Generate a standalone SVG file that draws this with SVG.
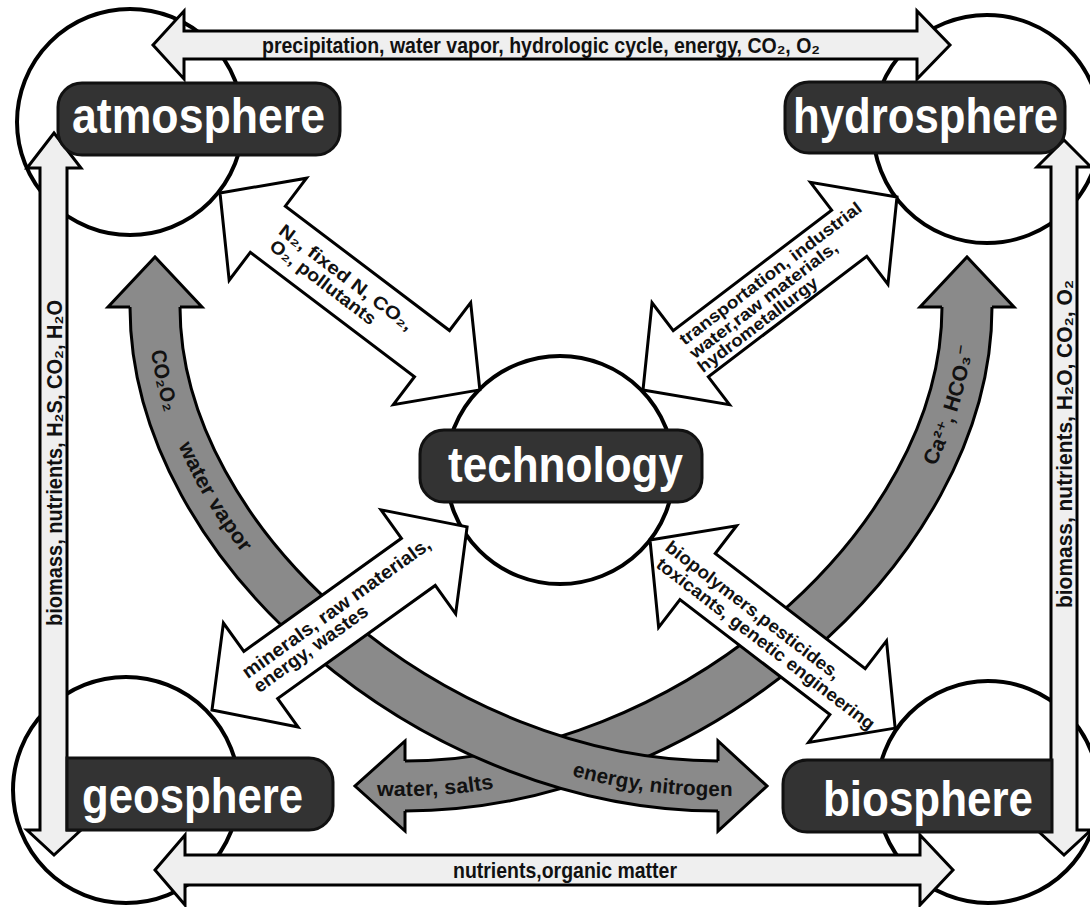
<svg xmlns="http://www.w3.org/2000/svg" xmlns:xlink="http://www.w3.org/1999/xlink" width="1090" height="907" viewBox="0 0 1090 907">
<style>
.circ{fill:#fff;stroke:#000;stroke-width:4}
.box{fill:#333;stroke:#111;stroke-width:3}
.lbl{font-family:'Liberation Sans Narrow','Liberation Sans',Arial,sans-serif;font-weight:700;font-size:50px;fill:#fff}
.light{fill:#efefef;stroke:#000;stroke-width:3}
.white{fill:#fff;stroke:#000;stroke-width:3}
.grayhead{fill:#8a8a8a;stroke:#000;stroke-width:3}
.bandout{fill:none;stroke:#000;stroke-width:53}
.bandin{fill:none;stroke:#8a8a8a;stroke-width:47}
.t{font-family:'Liberation Sans Narrow','Liberation Sans','DejaVu Sans',Arial,sans-serif;font-weight:700;fill:#111}
</style>
<defs>
<path id="tpA" d="M155,307 C155,547 436,786 718,786 L800,786"/>
<path id="tpB" d="M330,786 L405,786 C686,786 967,547 967,307 L967,240"/>
</defs>
<rect width="1090" height="907" fill="#fff"/>

<g id="spheres">
<circle class="circ" cx="130" cy="122" r="113"/>
<circle class="circ" cx="987" cy="129" r="114"/>
<circle class="circ" cx="560" cy="470" r="114"/>
<circle class="circ" cx="126" cy="790" r="113"/>
<circle class="circ" cx="988" cy="792" r="111"/>
</g>

<g id="connectors">
<g id="band-b">
<path class="bandout" d="M967,307 C967,547 686,786 405,786"/>
<path class="bandin" d="M967,307 C967,547 686,786 405,786"/>
<path class="grayhead" d="M942,307 L920,307 L967,257 L1014,307 L992,307"/>
<path class="grayhead" d="M405,761 L405,741 L355,786 L405,831 L405,811"/>
</g>
<g id="band-a">
<path class="bandout" d="M155,307 C155,547 436,786 718,786"/>
<path class="bandin" d="M155,307 C155,547 436,786 718,786"/>
<path class="grayhead" d="M130,307 L108,307 L155,257 L202,307 L180,307"/>
<path class="grayhead" d="M718,761 L718,741 L767,786 L718,831 L718,811"/>
</g>
<g id="band-text" class="t" font-size="21">
<text><textPath xlink:href="#tpA" startOffset="43" textLength="62" lengthAdjust="spacingAndGlyphs"><tspan dy="7">CO₂O₂</tspan></textPath></text>
<text><textPath xlink:href="#tpA" startOffset="140" textLength="124" lengthAdjust="spacingAndGlyphs"><tspan dy="6">water vapor</tspan></textPath></text>
<text><textPath xlink:href="#tpA" startOffset="663" textLength="160" lengthAdjust="spacingAndGlyphs"><tspan dy="10">energy, nitrogen</tspan></textPath></text>
<text><textPath xlink:href="#tpB" startOffset="47" textLength="116" lengthAdjust="spacingAndGlyphs"><tspan dy="10">water, salts</tspan></textPath></text>
<text><textPath xlink:href="#tpB" startOffset="720" textLength="125" lengthAdjust="spacingAndGlyphs"><tspan dy="7">Ca²⁺, HCO₃⁻</tspan></textPath></text>
</g>

<g id="atmo-tech" transform="translate(220,193) rotate(37.15)">
<path class="white" d="M0,0 L60,-64 L60,-29 L266,-29 L266,-64 L326,0 L266,64 L266,29 L60,29 L60,64 Z"/>
<text class="t" font-size="18" x="70" y="-3" textLength="163" lengthAdjust="spacingAndGlyphs">N₂, fixed N, CO₂,</text>
<text class="t" font-size="18" x="72" y="15" textLength="128" lengthAdjust="spacingAndGlyphs">O₂, pollutants</text>
</g>
<g id="hydro-tech" transform="translate(643,390) rotate(-37.23)">
<path class="white" d="M0,0 L60,-64 L60,-29 L259,-29 L259,-64 L319,0 L259,64 L259,29 L60,29 L60,64 Z"/>
<text class="t" font-size="17" x="60" y="-10" textLength="224" lengthAdjust="spacingAndGlyphs">transportation, industrial</text>
<text class="t" font-size="17" x="60" y="7" textLength="181" lengthAdjust="spacingAndGlyphs">water,raw materials,</text>
<text class="t" font-size="17" x="58" y="23" textLength="146" lengthAdjust="spacingAndGlyphs">hydrometallurgy</text>
</g>
<g id="geo-tech" transform="translate(212,710) rotate(-35.67)">
<path class="white" d="M0,0 L60,-64 L60,-29 L254,-29 L254,-64 L314,0 L254,64 L254,29 L60,29 L60,64 Z"/>
<text class="t" font-size="19" x="47" y="-4" textLength="227" lengthAdjust="spacingAndGlyphs">minerals, raw materials,</text>
<text class="t" font-size="19" x="48" y="14" textLength="136" lengthAdjust="spacingAndGlyphs">energy, wastes</text>
</g>
<g id="bio-tech" transform="translate(650,540) rotate(37.5)">
<path class="white" d="M0,0 L60,-64 L60,-29 L249,-29 L249,-64 L309,0 L249,64 L249,29 L60,29 L60,64 Z"/>
<text class="t" font-size="18" x="17" y="-1" textLength="215" lengthAdjust="spacingAndGlyphs">biopolymers,pesticides,</text>
<text class="t" font-size="18" x="20" y="18" textLength="270" lengthAdjust="spacingAndGlyphs">toxicants, genetic engineering</text>
</g>

<g id="atmo-hydro">
<path class="light" d="M153,45 L184,11 L184,31 L917,31 L917,11 L950,45 L917,79 L917,59 L184,59 L184,79 Z"/>
<text class="t" font-size="22" x="262" y="53" textLength="558" lengthAdjust="spacingAndGlyphs">precipitation, water vapor, hydrologic cycle, energy, CO₂, O₂</text>
</g>
<g id="geo-bio">
<path class="light" d="M155,870 L185,835 L185,855 L920,855 L920,835 L953,870 L920,905 L920,885 L185,885 L185,905 Z"/>
<text class="t" font-size="22" x="453" y="878" textLength="224" lengthAdjust="spacingAndGlyphs">nutrients,organic matter</text>
</g>
<g id="atmo-geo">
<path class="light" d="M54,133 L81,168 L67,168 L67,830 L81,830 L54,855 L27,830 L40,830 L40,168 L27,168 Z"/>
<text class="t" font-size="22" transform="translate(62,626) rotate(-90)" x="0" y="0" textLength="326" lengthAdjust="spacingAndGlyphs">biomass, nutrients, H₂S, CO₂, H₂O</text>
</g>
<g id="hydro-bio">
<path class="light" d="M1064,140 L1091,167 L1077,167 L1077,830 L1091,830 L1064,855 L1037,830 L1051,830 L1051,167 L1037,167 Z"/>
<text class="t" font-size="22" transform="translate(1072,608) rotate(-90)" x="0" y="0" textLength="328" lengthAdjust="spacingAndGlyphs">biomass, nutrients, H₂O, CO₂, O₂</text>
</g>
</g>

<g id="nodes">
<g id="atmosphere">
<rect class="box" x="58" y="83" width="282" height="72" rx="24"/>
<text class="lbl" x="72" y="133" textLength="253" lengthAdjust="spacingAndGlyphs">atmosphere</text>
</g>
<g id="hydrosphere">
<rect class="box" x="785" y="82" width="280" height="71" rx="24"/>
<text class="lbl" x="793" y="133" font-size="47" textLength="265" lengthAdjust="spacingAndGlyphs">hydrosphere</text>
</g>
<g id="technology">
<rect class="box" x="420" y="430" width="282" height="72" rx="24"/>
<text class="lbl" x="448" y="482" textLength="235" lengthAdjust="spacingAndGlyphs">technology</text>
</g>
<g id="geosphere">
<path class="box" d="M67,758 H309 A24,24 0 0 1 333,782 V806 A24,24 0 0 1 309,830 H67 Z"/>
<text class="lbl" x="82" y="813" textLength="221" lengthAdjust="spacingAndGlyphs">geosphere</text>
</g>
<g id="biosphere">
<path class="box" d="M1052,760 H807 A24,24 0 0 0 783,784 V808 A24,24 0 0 0 807,832 H1052 Z"/>
<text class="lbl" x="823" y="816" textLength="210" lengthAdjust="spacingAndGlyphs">biosphere</text>
</g>
</g>
</svg>
